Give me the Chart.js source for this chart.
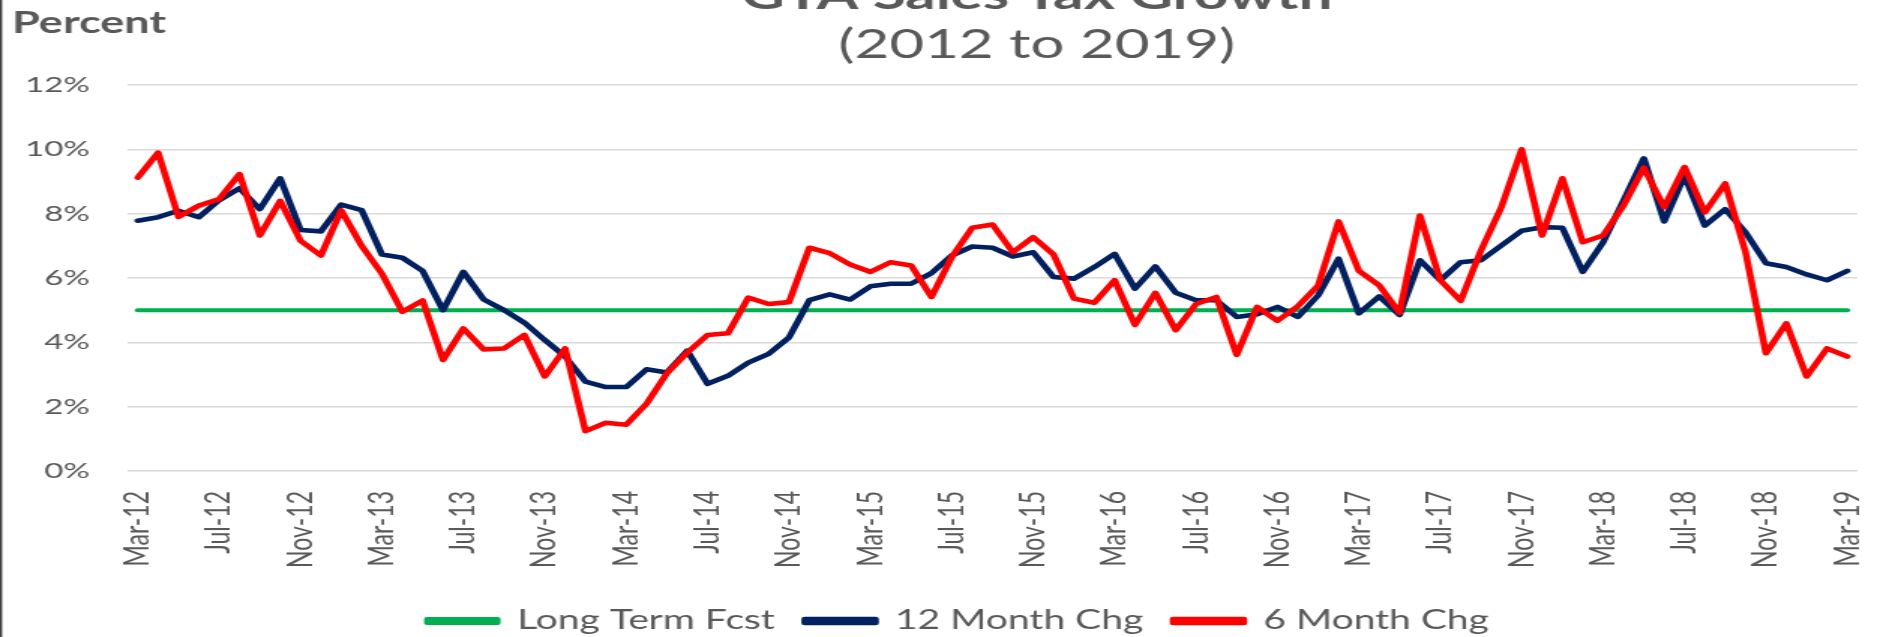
<!DOCTYPE html>
<html>
<head>
<meta charset="utf-8">
<script src="https://cdn.jsdelivr.net/npm/chart.js@4/dist/chart.umd.min.js"></script>
<style>
  body { margin: 0; background: #fff; overflow: hidden; }
</style>
</head>
<body>
<!-- drawn narrow, then stretched sideways like the original picture -->
<canvas id="myChart" width="1253" height="637" style="width:1880px;height:637px"></canvas>
<script>
var months = [
    'Mar-12','Apr-12','May-12','Jun-12','Jul-12','Aug-12','Sep-12','Oct-12','Nov-12','Dec-12',
    'Jan-13','Feb-13','Mar-13','Apr-13','May-13','Jun-13','Jul-13','Aug-13','Sep-13','Oct-13','Nov-13','Dec-13',
    'Jan-14','Feb-14','Mar-14','Apr-14','May-14','Jun-14','Jul-14','Aug-14','Sep-14','Oct-14','Nov-14','Dec-14',
    'Jan-15','Feb-15','Mar-15','Apr-15','May-15','Jun-15','Jul-15','Aug-15','Sep-15','Oct-15','Nov-15','Dec-15',
    'Jan-16','Feb-16','Mar-16','Apr-16','May-16','Jun-16','Jul-16','Aug-16','Sep-16','Oct-16','Nov-16','Dec-16',
    'Jan-17','Feb-17','Mar-17','Apr-17','May-17','Jun-17','Jul-17','Aug-17','Sep-17','Oct-17','Nov-17','Dec-17',
    'Jan-18','Feb-18','Mar-18','Apr-18','May-18','Jun-18','Jul-18','Aug-18','Sep-18','Oct-18','Nov-18','Dec-18',
    'Jan-19','Feb-19','Mar-19'
];

var long_term_fcst = [
    5, 5, 5, 5, 5, 5, 5, 5, 5, 5, 5, 5,
    5, 5, 5, 5, 5, 5, 5, 5, 5, 5, 5, 5,
    5, 5, 5, 5, 5, 5, 5, 5, 5, 5, 5, 5,
    5, 5, 5, 5, 5, 5, 5, 5, 5, 5, 5, 5,
    5, 5, 5, 5, 5, 5, 5, 5, 5, 5, 5, 5,
    5, 5, 5, 5, 5, 5, 5, 5, 5, 5, 5, 5,
    5, 5, 5, 5, 5, 5, 5, 5, 5, 5, 5, 5, 5
];

var twelve_month = [
    7.78, 7.89, 8.09, 7.89, 8.42, 8.79, 8.14, 9.10, 7.49, 7.45, 8.28, 8.11,
    6.73, 6.63, 6.22, 5.00, 6.19, 5.33, 5.00, 4.61, 4.07, 3.56, 2.78, 2.61,
    2.61, 3.16, 3.06, 3.74, 2.71, 2.96, 3.37, 3.64, 4.15, 5.31, 5.49, 5.33,
    5.74, 5.82, 5.82, 6.15, 6.70, 6.98, 6.94, 6.67, 6.80, 6.03, 5.98, 6.34,
    6.75, 5.67, 6.36, 5.54, 5.31, 5.31, 4.79, 4.87, 5.10, 4.79, 5.46, 6.60,
    4.90, 5.43, 4.85, 6.55, 5.93, 6.49, 6.55, 7.01, 7.47, 7.58, 7.56, 6.19,
    7.11, 8.40, 9.72, 7.76, 9.18, 7.63, 8.14, 7.42, 6.46, 6.34, 6.11, 5.93, 6.22
];

var six_month = [
    9.12, 9.90, 7.90, 8.25, 8.45, 9.23, 7.32, 8.40, 7.16, 6.70, 8.10, 7.00,
    6.13, 4.95, 5.30, 3.45, 4.43, 3.78, 3.81, 4.23, 2.94, 3.81, 1.24, 1.50,
    1.44, 2.09, 3.04, 3.68, 4.23, 4.28, 5.39, 5.19, 5.25, 6.94, 6.77, 6.42,
    6.19, 6.49, 6.39, 5.41, 6.65, 7.56, 7.66, 6.80, 7.27, 6.73, 5.36, 5.23,
    5.93, 4.54, 5.54, 4.38, 5.19, 5.41, 3.61, 5.10, 4.67, 5.12, 5.77, 7.76,
    6.22, 5.77, 4.92, 7.94, 5.93, 5.29, 6.86, 8.20, 10.00, 7.32, 9.10, 7.11,
    7.32, 8.25, 9.43, 8.20, 9.45, 8.04, 8.94, 6.80, 3.66, 4.59, 2.94, 3.81, 3.56
];

var y_ticks = [0, 2, 4, 6, 8, 10, 12];

const text_colour = '#595959';
const font_family = 'Lato, "Open Sans", sans-serif';

// titles and the "Percent" label sit above the plot
const titleText = {
    id: 'titleText',
    afterLayout(chart) {
        // legend sits a little right of centre in the original
        chart.legend.left += 13;
        chart.legend.right += 13;
    },
    afterDraw(chart) {
        const c = chart.ctx;
        c.save();
        c.fillStyle = text_colour;
        c.textAlign = 'center';
        c.textBaseline = 'alphabetic';
        c.font = 'bold 40px ' + font_family;
        c.fillText('GTA Sales Tax Growth', 691, 9);
        c.font = '40px ' + font_family;
        c.fillText('(2012 to 2019)', 691, 58);
        c.textAlign = 'left';
        c.font = 'bold 30px ' + font_family;
        c.fillText('Percent', 8, 33);
        // frame edge on the left
        c.fillStyle = '#404040';
        c.fillRect(0, 0, 1.4, chart.height);
        c.restore();
    }
};

const ctx = document.getElementById('myChart').getContext('2d');
const myChart = new Chart(ctx, {
    type: 'line',
    data: {
        labels: months,
        datasets: [{
            label: 'Long Term Fcst',
            data: long_term_fcst,
            borderColor: '#00B050',
            backgroundColor: '#00B050',
            borderWidth: 4,
            order: 3
        }, {
            label: '12 Month Chg',
            data: twelve_month,
            borderColor: '#002060',
            backgroundColor: '#002060',
            order: 2
        }, {
            label: '6 Month Chg',
            data: six_month,
            borderColor: '#FF0000',
            backgroundColor: '#FF0000',
            order: 1
        }]
    },
    options: {
        responsive: false,
        animation: false,
        devicePixelRatio: 1,
        layout: {
            padding: { top: 85, left: 13, right: 15, bottom: -7 }
        },
        elements: {
            line: { borderWidth: 4.6, tension: 0, borderJoinStyle: 'round', borderCapStyle: 'round' },
            point: { radius: 0, hoverRadius: 0 }
        },
        plugins: {
            title: { display: false },
            tooltip: { enabled: false },
            legend: {
                position: 'bottom',
                labels: {
                    boxWidth: 47,
                    boxHeight: 4,
                    padding: 20,
                    color: text_colour,
                    font: { family: font_family, size: 26 },
                    sort: (a, b) => a.datasetIndex - b.datasetIndex
                }
            }
        },
        scales: {
            x: {
                offset: true,
                grid: { display: false, drawTicks: false },
                border: { display: false },
                afterFit: function (axis) {
                    axis.paddingLeft = 0;
                    axis.paddingRight = 0;
                },
                ticks: {
                    autoSkip: false,
                    maxRotation: 90,
                    minRotation: 90,
                    padding: 20,
                    color: text_colour,
                    font: { family: font_family, size: 23 },
                    callback: function (value, index) {
                        return index % 4 === 0 ? months[index] : '';
                    }
                }
            },
            y: {
                min: y_ticks[0],
                max: y_ticks[y_ticks.length - 1],
                grid: { color: '#d9d9d9', lineWidth: 1.5, drawTicks: false },
                border: { display: false },
                afterBuildTicks: function (axis) {
                    axis.ticks = y_ticks.map(v => ({ value: v }));
                },
                afterFit: function (axis) {
                    axis.width = 72;
                },
                ticks: {
                    padding: 25,
                    color: text_colour,
                    font: { family: font_family, size: 22 },
                    callback: function (value) { return value + '%'; }
                }
            }
        }
    },
    plugins: [titleText]
});
</script>
</body>
</html>
